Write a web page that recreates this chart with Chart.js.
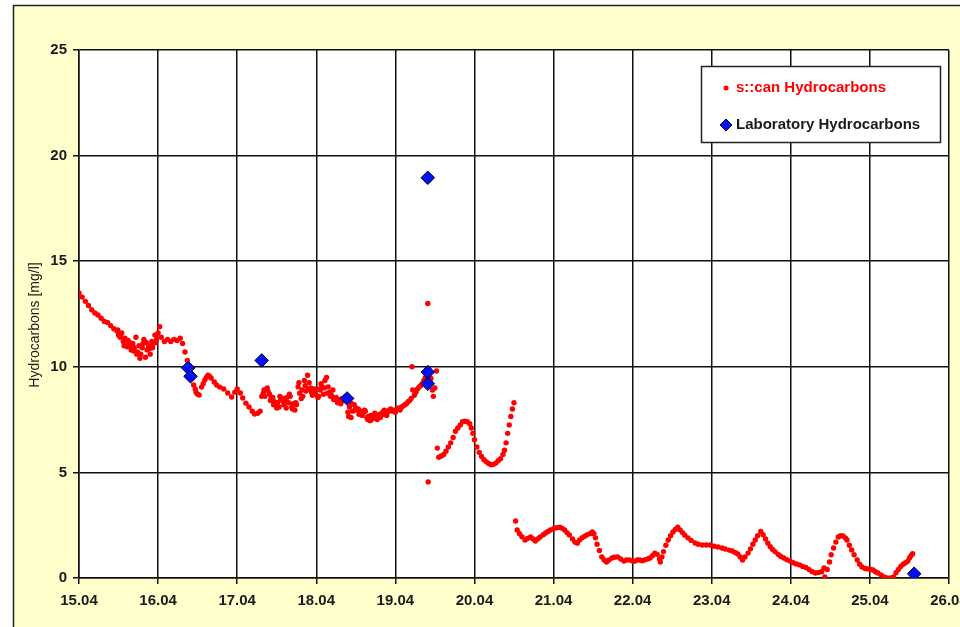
<!DOCTYPE html>
<html>
<head>
<meta charset="utf-8">
<title>Hydrocarbons 15.04 - 26.04</title>
<script src="https://cdn.jsdelivr.net/npm/chart.js@4.4.1/dist/chart.umd.min.js"></script>
<style>
  html, body { margin: 0; padding: 0; background: #ffffff; }
  #wrap { position: relative; width: 960px; height: 627px; }
  canvas { display: block; }
</style>
</head>
<body>
<div id="wrap"><canvas id="chart" width="960" height="627"></canvas></div>
<script>
// s::can probe readings: day of April (fractional) and hydrocarbons in mg/l
const scanDays = [
  15.00, 15.04, 15.08, 15.12, 15.16, 15.20, 15.24, 15.28, 15.32, 15.36, 15.40, 15.44, 15.48,
  15.50, 15.52, 15.54, 15.56, 15.58, 15.60, 15.62, 15.64, 15.66, 15.68, 15.70, 15.72, 15.74,
  15.76, 15.78, 15.80, 15.82, 15.84, 15.86, 15.88, 15.90, 15.92, 15.94, 15.96, 15.98, 16.00,
  15.49, 15.53, 15.57, 15.61, 15.65, 15.69, 15.73, 15.77, 15.81, 15.85, 15.89, 15.93, 15.97,
  16.02, 16.04, 16.08, 16.12, 16.16, 16.20, 16.24, 16.28, 16.31, 16.34, 16.37, 16.40,
  16.43, 16.45, 16.47, 16.48, 16.50, 16.52, 16.55, 16.57, 16.59, 16.61, 16.63, 16.65, 16.67,
  16.71, 16.74, 16.78, 16.83, 16.88, 16.93, 16.97, 17.00, 17.04, 17.07, 17.11, 17.15, 17.19,
  17.22, 17.26, 17.29,
  17.31, 17.33, 17.35, 17.37, 17.39, 17.41, 17.43, 17.45, 17.47, 17.49, 17.51, 17.53, 17.55,
  17.57, 17.59, 17.61, 17.63, 17.65, 17.67, 17.69, 17.71, 17.73, 17.75, 17.77, 17.79, 17.81,
  17.83, 17.85, 17.87, 17.89, 17.91, 17.93, 17.95, 17.97, 17.99, 18.01, 18.03, 18.05, 18.07,
  18.09, 18.11, 18.13, 18.15, 18.17, 18.19, 18.21, 18.23, 18.25, 18.27, 18.29, 18.31, 18.33,
  17.34, 17.38, 17.42, 17.46, 17.50, 17.54, 17.58, 17.62, 17.66, 17.70, 17.74, 17.78, 17.82,
  17.86, 17.90, 17.94, 17.98, 18.02, 18.06, 18.10, 18.14, 18.18, 18.22, 18.26, 18.30,
  18.35, 18.37, 18.40, 18.42, 18.44, 18.46, 18.48, 18.50, 18.52, 18.54, 18.56, 18.58, 18.60,
  18.62, 18.64, 18.66, 18.68, 18.70, 18.72, 18.74, 18.76, 18.78, 18.80, 18.82, 18.84, 18.86,
  18.41, 18.45, 18.49, 18.53, 18.57, 18.61, 18.65, 18.69, 18.73, 18.77, 18.81, 18.85, 18.89,
  18.88, 18.90, 18.92, 18.94, 18.96, 18.98, 19.00, 19.02, 19.04, 19.06, 19.08, 19.10, 19.12,
  19.14, 19.16, 19.18, 19.20, 19.21, 19.22, 19.24, 19.26, 19.28, 19.30, 19.32, 19.34, 19.36,
  19.38, 19.40, 19.41, 19.415, 19.43, 19.45, 19.47, 19.48, 19.50, 19.52,
  19.53, 19.55, 19.58, 19.61, 19.64, 19.67, 19.70, 19.73, 19.76, 19.79, 19.82, 19.85, 19.88,
  19.91, 19.94, 19.96, 19.98, 20.00, 20.03, 20.06, 20.09, 20.12, 20.15, 20.18, 20.21, 20.24,
  20.27, 20.30, 20.33, 20.36, 20.38, 20.40, 20.42, 20.44, 20.46, 20.48, 20.50,
  20.52, 20.54, 20.57, 20.60, 20.64, 20.67, 20.71, 20.74, 20.77, 20.80, 20.83, 20.87, 20.90,
  20.93, 20.96, 21.00, 21.04, 21.08, 21.11, 21.14, 21.17, 21.20, 21.24, 21.27, 21.30, 21.33,
  21.36, 21.39, 21.42, 21.46, 21.49, 21.51, 21.53, 21.55, 21.58, 21.61, 21.64, 21.67, 21.70,
  21.74, 21.77, 21.81, 21.85, 21.89, 21.92, 21.96, 22.00, 22.03, 22.06, 22.09, 22.12, 22.15,
  22.19, 22.22, 22.25, 22.28, 22.31, 22.34, 22.35, 22.37, 22.39, 22.42, 22.45, 22.48, 22.51,
  22.54, 22.57, 22.60, 22.63, 22.66, 22.70, 22.74, 22.79, 22.83, 22.88, 22.93, 22.98, 23.03,
  23.08, 23.13, 23.17, 23.22, 23.26, 23.30, 23.33, 23.36, 23.39, 23.42, 23.46, 23.49, 23.52,
  23.55, 23.58, 23.62, 23.65, 23.68, 23.71, 23.74, 23.77, 23.80, 23.84, 23.87, 23.91, 23.95,
  23.99, 24.03, 24.07, 24.11, 24.15, 24.19, 24.23, 24.27, 24.31, 24.35, 24.39, 24.42, 24.43,
  24.46, 24.49, 24.51, 24.54, 24.57, 24.60, 24.63, 24.66, 24.69, 24.71, 24.74, 24.77, 24.80,
  24.84, 24.87, 24.90, 24.94, 24.97, 25.01, 25.04, 25.07, 25.10, 25.14, 25.18, 25.22, 25.26,
  25.30, 25.33, 25.36, 25.39, 25.42, 25.45, 25.48, 25.50, 25.52, 25.54
];
const scanValues = [
  13.5, 13.3, 13.1, 12.9, 12.7, 12.55, 12.45, 12.3, 12.15, 12.1, 11.95, 11.8, 11.7,
  11.5, 11.4, 11.6, 11.2, 11.35, 11.0, 11.25, 11.15, 10.8, 11.1, 10.9, 11.4, 10.7,
  11.0, 10.6, 10.9, 11.3, 10.45, 10.8, 11.0, 10.6, 11.2, 11.1, 11.5, 11.3, 11.6,
  11.75, 11.55, 11.0, 10.95, 11.0, 10.75, 10.6, 10.4, 11.1, 11.15, 10.85, 10.9, 11.15,
  11.9, 11.4, 11.2, 11.3, 11.2, 11.3, 11.25, 11.35, 11.1, 10.7, 10.3, 10.0,
  9.47, 9.14, 8.95, 8.8, 8.7, 8.66, 9.04, 9.2, 9.37, 9.5, 9.6, 9.55, 9.47,
  9.28, 9.14, 9.04, 8.95, 8.76, 8.57, 8.8, 8.95, 8.76, 8.52, 8.28, 8.1, 7.9,
  7.76, 7.8, 7.9,
  8.6, 8.75, 8.6, 8.9, 8.85, 8.7, 8.5, 8.55, 8.35, 8.2, 8.3, 8.1, 8.45,
  8.4, 8.2, 8.35, 8.55, 8.3, 8.6, 8.1, 8.25, 7.95, 8.2, 9.05, 8.75, 8.5,
  8.6, 9.35, 8.85, 9.6, 9.25, 9.0, 8.65, 8.8, 8.7, 8.95, 8.6, 8.9, 9.05,
  8.7, 9.35, 9.5, 9.05, 8.8, 8.65, 8.9, 8.5, 8.55, 8.3, 8.45, 8.25, 8.5,
  8.9, 9.0, 8.4, 8.2, 8.05, 8.6, 8.5, 8.05, 8.7, 8.0, 8.3, 9.25, 8.9,
  9.1, 8.95, 8.8, 8.95, 8.55, 9.2, 9.0, 8.75, 8.6, 8.45, 8.4, 8.35,
  8.4, 8.6, 7.85, 8.1, 7.6, 7.9, 8.2, 8.05, 7.95, 7.75, 7.9, 7.7, 7.85,
  7.9, 7.6, 7.65, 7.45, 7.5, 7.7, 7.8, 7.55, 7.6, 7.75, 7.7, 7.85, 7.95,
  7.65, 8.25, 7.95, 8.0, 7.8, 7.95, 7.5, 7.7, 7.6, 7.5, 7.6, 7.75, 7.7,
  7.8, 7.85, 7.95, 8.0, 7.9, 7.95, 7.85, 8.0, 8.05, 7.95, 8.1, 8.15, 8.2,
  8.25, 8.35, 8.4, 8.5, 10.0, 8.9, 8.65, 8.8, 8.95, 9.05, 9.1, 9.2, 9.35,
  9.5, 9.65, 13.0, 4.55, 9.8, 9.45, 8.9, 8.6, 9.0, 9.8,
  6.15, 5.72, 5.78, 5.85, 6.0, 6.2, 6.4, 6.65, 6.95, 7.1, 7.25, 7.4, 7.42,
  7.4, 7.3, 7.1, 6.85, 6.55, 6.2, 5.95, 5.75, 5.6, 5.5, 5.42, 5.36, 5.38,
  5.44, 5.55, 5.65, 5.85, 6.05, 6.4, 6.85, 7.25, 7.65, 8.0, 8.3,
  2.7, 2.27, 2.1, 1.95, 1.8, 1.87, 1.94, 1.85, 1.75, 1.85, 1.94, 2.05, 2.13,
  2.2, 2.27, 2.33, 2.38, 2.4, 2.35, 2.27, 2.15, 2.04, 1.85, 1.7, 1.65, 1.8,
  1.9, 1.97, 2.04, 2.1, 2.18, 2.1, 1.9, 1.6, 1.3, 1.0, 0.85, 0.76, 0.85,
  0.95, 0.98, 1.0, 0.9, 0.8, 0.85, 0.85, 0.8, 0.8, 0.85, 0.85, 0.82, 0.85,
  0.9, 0.95, 1.05, 1.18, 1.12, 0.9, 0.76, 1.0, 1.25, 1.55, 1.8, 2.0, 2.18,
  2.3, 2.4, 2.28, 2.15, 2.03, 1.9, 1.78, 1.66, 1.6, 1.56, 1.56, 1.56, 1.5,
  1.47, 1.42, 1.37, 1.32, 1.28, 1.2, 1.14, 1.0, 0.85, 1.0, 1.18, 1.38, 1.6,
  1.8, 2.0, 2.2, 2.05, 1.85, 1.65, 1.48, 1.35, 1.25, 1.12, 1.03, 0.95, 0.87,
  0.8, 0.72, 0.66, 0.62, 0.55, 0.5, 0.4, 0.3, 0.24, 0.26, 0.3, 0.47, 0.05,
  0.4, 0.76, 1.1, 1.42, 1.7, 1.94, 2.0, 1.99, 1.9, 1.8, 1.55, 1.33, 1.1,
  0.85, 0.65, 0.52, 0.45, 0.43, 0.4, 0.38, 0.3, 0.24, 0.15, 0.05, 0.0, 0.0,
  0.05, 0.25, 0.4, 0.55, 0.65, 0.72, 0.8, 0.95, 1.05, 1.15
];

// Laboratory samples
const labDays   = [16.38, 16.41, 17.31, 18.39, 19.41, 19.41, 19.41, 25.56];
const labValues = [9.95,  9.55,  10.3,  8.5,   18.95, 9.75,  9.2,   0.2];

// Axis ticks
const dayTicks = [15, 16, 17, 18, 19, 20, 21, 22, 23, 24, 25, 26];
const monthSuffix = '.04';
const yTicks = [0, 5, 10, 15, 20, 25];

const seriesNames = ['s::can Hydrocarbons', 'Laboratory Hydrocarbons'];
const yTitle = 'Hydrocarbons [mg/l]';

const FONT = '"Liberation Sans", Arial, Helvetica, sans-serif';
const SCAN_RED = '#ff0000';
const LAB_BLUE = '#0010f0';
const LAB_EDGE = '#000040';
const INK = '#1a1a1a';
const PANEL = '#ffffcc';

const toPoints = (xs, ys) => xs.map((x, i) => ({ x: x, y: ys[i] }));

// Pale yellow panel with a dark frame, white plotting area, vertical axis caption
const backdrop = {
  id: 'backdrop',
  beforeDraw(chart) {
    const { ctx, width, height, chartArea: a } = chart;
    ctx.save();
    ctx.fillStyle = '#ffffff';
    ctx.fillRect(0, 0, width, height);
    ctx.fillStyle = PANEL;
    ctx.fillRect(13, 5, width - 13, height - 5);
    ctx.strokeStyle = '#222';
    ctx.lineWidth = 1.5;
    ctx.beginPath();
    ctx.moveTo(13.5, height);
    ctx.lineTo(13.5, 5.5);
    ctx.lineTo(width, 5.5);
    ctx.stroke();
    ctx.fillStyle = '#ffffff';
    ctx.fillRect(a.left, a.top, a.right - a.left, a.bottom - a.top);

    // caption sits slightly below the middle of the value axis
    ctx.translate(35, 325);
    ctx.rotate(-Math.PI / 2);
    ctx.font = '14px ' + FONT;
    ctx.fillStyle = INK;
    ctx.textAlign = 'center';
    ctx.textBaseline = 'middle';
    ctx.fillText(yTitle, 0, 0);
    ctx.restore();
  }
};

// Boxed legend in the upper right of the plot
const boxedLegend = {
  id: 'boxedLegend',
  afterDraw(chart) {
    const { ctx } = chart;
    const bx = 701.5, by = 66.5, bw = 239, bh = 76;
    ctx.save();
    ctx.fillStyle = '#ffffff';
    ctx.fillRect(bx, by, bw, bh);
    ctx.strokeStyle = '#222';
    ctx.lineWidth = 1.5;
    ctx.strokeRect(bx, by, bw, bh);

    const mx = 726, tx = 736, y1 = 88, y2 = 125;
    ctx.fillStyle = SCAN_RED;
    ctx.beginPath();
    ctx.arc(mx, y1, 2.5, 0, Math.PI * 2);
    ctx.fill();

    ctx.beginPath();
    ctx.moveTo(mx - 6, y2);
    ctx.lineTo(mx, y2 - 6);
    ctx.lineTo(mx + 6, y2);
    ctx.lineTo(mx, y2 + 6);
    ctx.closePath();
    ctx.fillStyle = LAB_BLUE;
    ctx.fill();
    ctx.strokeStyle = LAB_EDGE;
    ctx.lineWidth = 1;
    ctx.stroke();

    ctx.font = 'bold 15px ' + FONT;
    ctx.textBaseline = 'middle';
    ctx.textAlign = 'left';
    ctx.fillStyle = SCAN_RED;
    ctx.fillText(seriesNames[0], tx, y1);
    ctx.fillStyle = INK;
    ctx.fillText(seriesNames[1], tx, y2);
    ctx.restore();
  }
};

new Chart(document.getElementById('chart'), {
  type: 'scatter',
  data: {
    datasets: [
      {
        label: seriesNames[1],
        data: toPoints(labDays, labValues),
        pointStyle: 'rectRot',
        pointRadius: 6.8,
        pointHoverRadius: 6.8,
        backgroundColor: LAB_BLUE,
        borderColor: LAB_EDGE,
        borderWidth: 1,
        order: 0
      },
      {
        label: seriesNames[0],
        data: toPoints(scanDays, scanValues),
        pointStyle: 'circle',
        pointRadius: 2.7,
        pointHoverRadius: 2.7,
        backgroundColor: SCAN_RED,
        borderColor: SCAN_RED,
        borderWidth: 0,
        order: 1
      }
    ]
  },
  options: {
    responsive: false,
    animation: false,
    events: [],
    layout: { padding: { top: 50, right: 11, bottom: 0, left: 0 } },
    plugins: {
      legend: { display: false },
      tooltip: { enabled: false }
    },
    scales: {
      x: {
        type: 'linear',
        min: dayTicks[0],
        max: dayTicks[dayTicks.length - 1],
        afterBuildTicks(scale) { scale.ticks = dayTicks.map(v => ({ value: v })); },
        ticks: {
          autoSkip: false,
          maxRotation: 0,
          padding: 8,
          color: INK,
          font: { family: FONT, size: 15, weight: 'bold' },
          callback: v => v + monthSuffix
        },
        grid: { color: '#111', lineWidth: 1.5, tickLength: 6, drawTicks: true },
        border: { color: '#111', width: 1.5 },
        afterFit(scale) {
          scale.height = 49;
          scale.paddingLeft = 0;
          scale.paddingRight = 0;
        }
      },
      y: {
        min: yTicks[0],
        max: yTicks[yTicks.length - 1],
        afterBuildTicks(scale) { scale.ticks = yTicks.map(v => ({ value: v })); },
        ticks: {
          padding: 6,
          color: INK,
          font: { family: FONT, size: 15, weight: 'bold' }
        },
        grid: { color: '#111', lineWidth: 1.5, tickLength: 6, drawTicks: true },
        border: { color: '#111', width: 1.5 },
        afterFit(scale) {
          scale.width = 79;
          scale.paddingTop = 0;
          scale.paddingBottom = 0;
        }
      }
    }
  },
  plugins: [backdrop, boxedLegend]
});
</script>
</body>
</html>
